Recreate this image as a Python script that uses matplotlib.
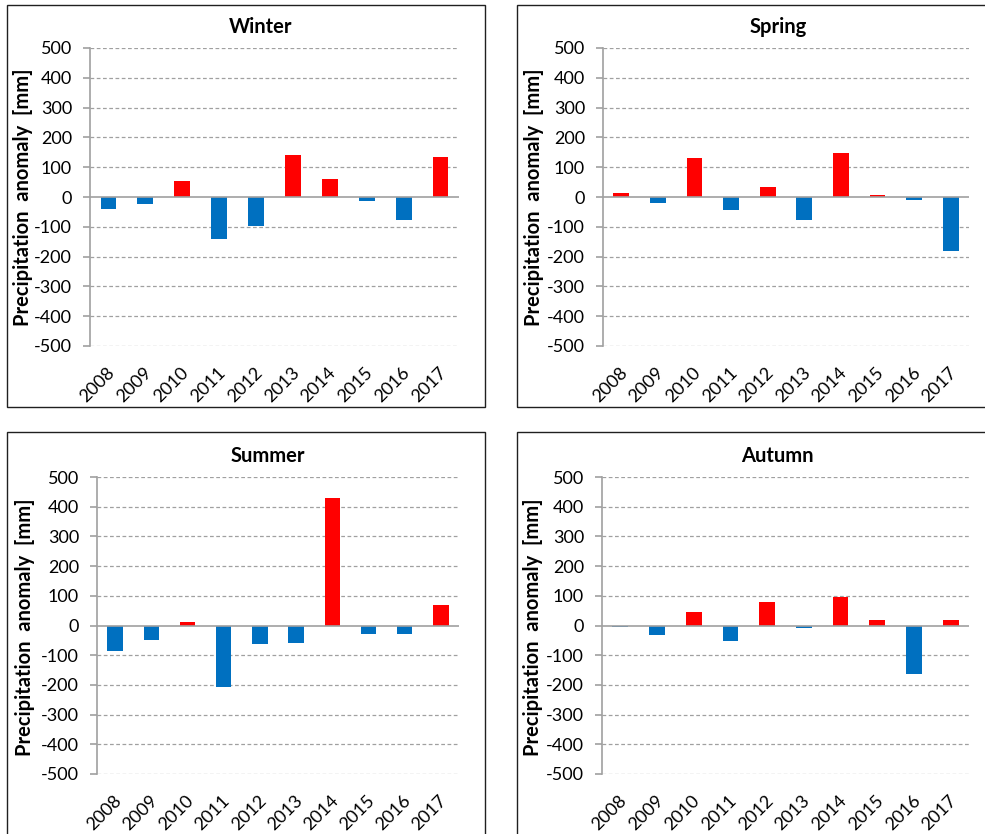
import matplotlib
matplotlib.use("Agg")
import matplotlib.pyplot as plt
import matplotlib.transforms as mtransforms
from matplotlib.patches import Rectangle

plt.rcParams['font.family'] = ['Lato', 'DejaVu Sans']

# data
years = ['2008', '2009', '2010', '2011', '2012', '2013', '2014', '2015', '2016', '2017']
winter = [-41, -24, 55, -142, -96, 140, 62, -13, -77, 133]
spring = [12, -20, 130, -45, 32, -77, 147, 8, -10, -180]
summer = [-85, -49, 11, -206, -63, -60, 429, -30, -30, 68]
autumn = [-6, -31, 47, -53, 80, -10, 95, 19, -163, 19]
yticks = list(range(-500, 501, 100))

W, H = 985, 834
fig = plt.figure(figsize=(W / 100, H / 100), dpi=100)

# panel layout in pixels: (box l, t, r, b), (axes l, t, r, b), title xy, ylabel xy
panels = [
    ('Winter', winter, (7, 5, 485, 407), (90, 48, 459, 346), (261, 27), (23, 197)),
    ('Spring', spring, (517, 5, 1000, 407), (603, 48, 969, 346), (778, 27), (534, 197)),
    ('Summer', summer, (7, 432, 485, 850), (97, 477, 459, 774), (268, 456), (25, 627)),
    ('Autumn', autumn, (517, 432, 1000, 850), (602, 477, 969, 774), (777, 456), (533, 627)),
]

blue = '#0070C0'
red = '#FF0000'
grey = '#A0A0A0'

for name, vals, box, ax_px, tpos, lpos in panels:
    l, t, r, b = box
    fig.patches.append(Rectangle((l / W, 1 - b / H), (r - l) / W, (b - t) / H,
                                 transform=fig.transFigure, fill=False,
                                 edgecolor='#202020', linewidth=1.0, zorder=0))
    al, at, ar, ab = ax_px
    ax = fig.add_axes([al / W, 1 - ab / H, (ar - al) / W, (ab - at) / H])
    cols = [red if v > 0 else blue for v in vals]
    ax.bar(range(len(years)), vals, width=0.43, color=cols, zorder=3)
    ax.set_xlim(-0.5, len(years) - 0.5)
    ax.set_ylim(-500, 500)
    ax.set_yticks(yticks)
    ax.set_yticklabels([str(v) for v in yticks], fontsize=13)
    for v in yticks:
        if v == 0:
            ax.axhline(0, color=grey, lw=1.2, zorder=4)
        else:
            ax.axhline(v, color=grey, lw=0.9, ls=(0, (3, 2)), zorder=1)
    for s in ['top', 'right', 'bottom']:
        ax.spines[s].set_visible(False)
    ax.spines['left'].set_color(grey)
    ax.spines['left'].set_linewidth(1.2)
    ax.tick_params(axis='y', length=5, color=grey, width=1.2, pad=8)
    ax.set_xticks(range(len(years)))
    ax.set_xticklabels(years, rotation=45, ha='right', va='top',
                       rotation_mode='anchor', fontsize=13)
    ax.tick_params(axis='x', length=0, pad=13)
    off = mtransforms.ScaledTranslation(-2 / 100, 0, fig.dpi_scale_trans)
    for lab in ax.get_xticklabels():
        lab.set_transform(lab.get_transform() + off)
    ax.patch.set_visible(False)
    fig.text(tpos[0] / W, 1 - tpos[1] / H, name, ha='center', va='center',
             fontsize=14.5, fontweight='bold')
    fig.text(lpos[0] / W, 1 - lpos[1] / H, 'Precipitation  anomaly  [mm]',
             rotation=90, ha='center', va='center', fontsize=14.5, fontweight='bold')

fig.savefig('out.png', dpi=100)
